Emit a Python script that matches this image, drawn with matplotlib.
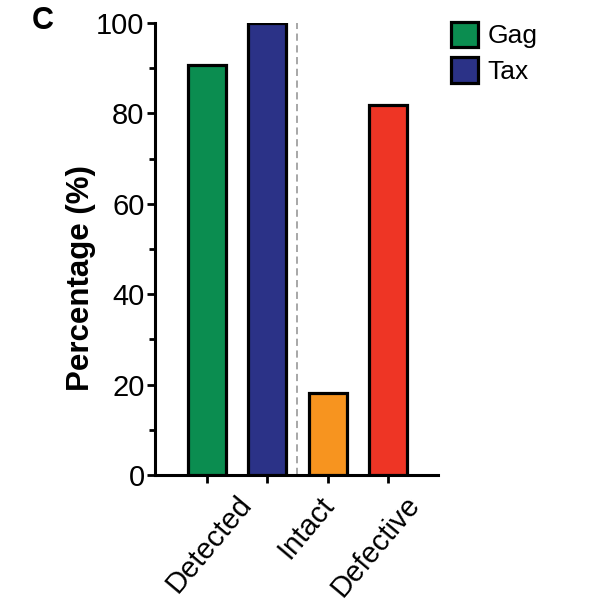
import matplotlib.pyplot as plt
from matplotlib.patches import Patch

plt.rcParams['font.family'] = ['Liberation Sans', 'DejaVu Sans']

# bar data
bar_values = [90.7, 100, 18.1, 81.9]
bar_colors = ['#0b8d50', '#2b3287', '#f7941f', '#ee3525']
group_labels = ['Detected', 'Intact', 'Defective']
legend_names = ['Gag', 'Tax']

fig = plt.figure(figsize=(6.13, 6.11), dpi=100)
ax = fig.add_axes([155 / 613, 1 - 475 / 611, (438 - 155) / 613, (475 - 23) / 611])

xpos = list(range(len(bar_values)))
ax.bar(xpos, bar_values, width=0.63, color=bar_colors, edgecolor='black', linewidth=2.3, zorder=3)

# dashed separator between detected and intact/defective
ax.axvline(1.5, ymin=0, ymax=1, color='#a0a0a0', linestyle=(0, (4, 2.5)), linewidth=1.3, zorder=1)

ax.set_xlim(-0.86, 3.83)
ax.set_ylim(0, 100)
ax.set_yticks([0, 20, 40, 60, 80, 100])
ax.set_yticks([10, 30, 50, 70, 90], minor=True)
ax.set_xticks(xpos)
ax.set_xticklabels([])
ax.tick_params(axis='both', which='major', length=6, width=2, labelsize=21, direction='out', pad=1.5)
ax.tick_params(axis='y', which='minor', length=4, width=2)

for side in ['top', 'right']:
    ax.spines[side].set_visible(False)
for side in ['left', 'bottom']:
    ax.spines[side].set_linewidth(2.2)

ax.set_ylabel('Percentage (%)', fontsize=22.5, fontweight='bold')
ax.yaxis.set_label_coords(-0.21, 0.436)

# rotated group labels
label_x = [0.84, 2.21, 3.63]
for lx, txt in zip(label_x, group_labels):
    ax.text(lx, -0.035, txt, transform=ax.get_xaxis_transform(), rotation=50,
            ha='right', va='top', fontsize=21)

handles = [Patch(facecolor=bar_colors[i], edgecolor='black', linewidth=2.3, label=legend_names[i])
           for i in range(2)]
fig.legend(handles=handles, loc='upper left', bbox_to_anchor=(440 / 613, 1 - 11 / 611),
           frameon=False, fontsize=19, handlelength=1.05, handleheight=1.1,
           handletextpad=0.35, labelspacing=0.35, borderaxespad=0)

fig.text(43 / 613, 1 - 21 / 611, 'C', fontsize=22, fontweight='bold', ha='center', va='center')

fig.savefig('out.png', dpi=100)
